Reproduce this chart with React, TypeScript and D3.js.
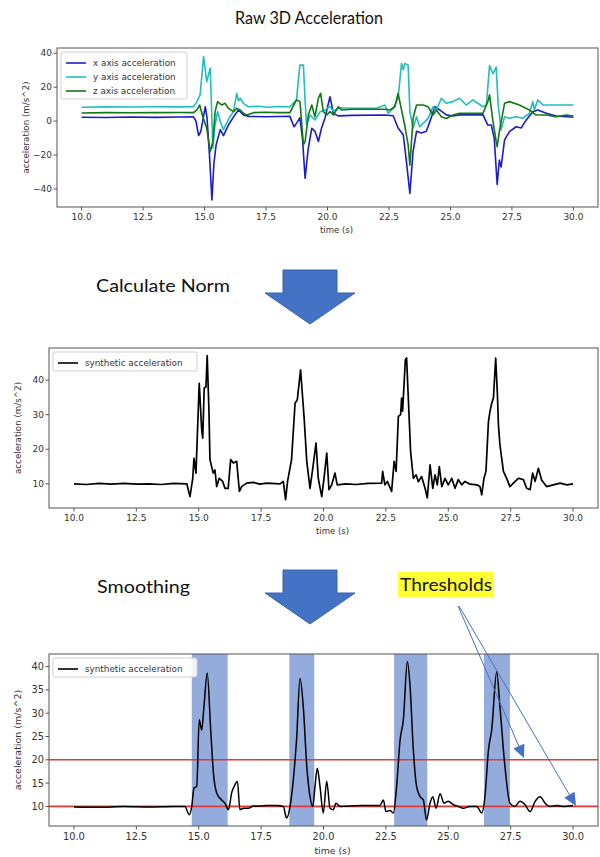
import * as d3 from 'd3';

const xTicks = [10, 12.5, 15, 17.5, 20, 22.5, 25, 27.5, 30];

// raw accelerometer axes, [time, value]
const xAccel = [
  [10, 2.3], [11, 2.1], [12, 2.4], [13, 2.2], [14, 2.4], [14.55, 2.5], [14.65, 0], [14.76, -8.5], [14.85, -6],
  [15.03, 8.5], [15.1, 2], [15.2, -20], [15.3, -46.5], [15.38, -25], [15.47, -14], [15.64, -5], [15.77, -8.5],
  [15.97, -2.3], [16.18, 2.5], [16.38, 6.6], [16.58, 3.6], [16.8, 2.8], [17.5, 2.6], [18.0, 2.7], [18.47, 2.8],
  [18.64, -3.3], [18.75, -1], [18.88, 2], [18.98, -10], [19.09, -33.7], [19.15, -25], [19.22, -16], [19.36, -4.2],
  [19.49, -6], [19.63, -12], [19.76, -4], [19.9, 1.9], [20.1, 14.4], [20.24, 4.5], [20.44, 3.1], [21, 3.4],
  [22.33, 3.6], [22.67, 3.2], [22.87, -4], [23.08, -8], [23.21, -23.9], [23.35, -42.6], [23.48, -17.8],
  [23.62, -6], [23.82, -7], [24.02, -6], [24.23, 2.5], [24.36, 8.5], [24.56, 6.6], [24.83, 3.7], [25.1, 3],
  [25.37, 3.7], [26.32, 3.8], [26.52, -2.3], [26.66, -2.3], [26.78, -10], [26.9, -37.3], [26.99, -23],
  [27.06, -27], [27.2, -11], [27.4, -6.2], [27.67, -3.3], [27.88, -4], [28.08, 0.7], [28.35, 5.6], [28.55, 6.6],
  [28.9, 4.6], [29.3, 3], [30, 2.3],
];
const yAccel = [
  [10, 8.2], [11, 8.4], [12, 8.3], [13, 8.5], [14, 8.4], [14.55, 8.5], [14.69, 11.5], [14.82, 15.5], [14.96, 38],
  [15.09, 23.3], [15.23, 31.2], [15.34, -16], [15.42, -3], [15.53, 5.6], [15.64, -0.3], [15.77, -5], [15.9, -1],
  [16.05, 3], [16.18, 5.6], [16.31, 16.4], [16.38, 12], [16.45, 13.5], [16.58, 10.5], [16.78, 8.5], [17.2, 8.8],
  [17.6, 8.2], [18, 8.6], [18.47, 8.5], [18.74, 12.5], [18.82, 25], [18.88, 33.1], [19.02, 33], [19.09, 11.5],
  [19.15, -2.3], [19.29, 3.6], [19.49, 0.7], [19.7, 5.6], [19.9, 6.6], [20.1, 8.5], [20.24, 6], [20.51, 7.9],
  [21, 7.6], [22, 7.6], [22.33, 9.5], [22.4, 7.5], [22.47, 4.6], [22.67, 7.5], [22.87, 13.5], [23.01, 34],
  [23.08, 30.3], [23.14, 34], [23.28, 33], [23.35, 5.6], [23.48, -4.2], [23.62, 2.6], [23.75, -3.3],
  [23.96, -0.3], [24.09, 1.6], [24.29, 8.5], [24.43, 6.6], [24.63, 13.5], [24.83, 10.5], [25.1, 11.5],
  [25.37, 13.5], [25.64, 9.5], [25.91, 12.5], [26.32, 8.5], [26.46, 9.5], [26.59, 32.7], [26.73, 27.9],
  [26.86, 31.8], [26.94, 10], [27.06, -5.2], [27.2, 2.6], [27.4, 1.7], [27.67, 2.6], [27.94, 1.7], [28.21, 4.6],
  [28.35, 11.5], [28.41, 6.6], [28.55, 12.5], [28.76, 9.5], [29.16, 9.5], [30, 9.5],
];
const zAccel = [
  [10, 4.8], [11, 5], [12, 4.9], [13, 5], [14, 5.1], [14.55, 5], [14.69, 6.6], [14.8, 9.5], [14.93, 2.6],
  [15.09, -4.2], [15.23, -18], [15.34, -12], [15.43, 5.6], [15.53, 11.5], [15.7, 9.5], [15.84, 10.5],
  [15.97, 7.5], [16.18, 5.6], [16.31, 7.5], [16.45, 6.6], [16.58, 4.6], [16.72, 3.6], [16.99, 5], [17.5, 5.2],
  [18, 5], [18.47, 5], [18.74, 12.5], [18.88, 11.5], [19.02, -14], [19.09, -12], [19.22, 3.6], [19.36, 9.5],
  [19.49, 2.6], [19.63, 13.5], [19.72, 16.4], [19.83, 5.6], [19.97, 3.6], [20.1, 5.6], [20.24, 3.6],
  [20.44, 8.5], [20.57, 6.6], [21, 7], [22.33, 7], [22.54, 6.6], [22.74, 8.5], [22.87, 16.4], [23.01, 6.6],
  [23.14, -2.3], [23.28, -14], [23.35, -25.9], [23.48, 1.6], [23.62, 9.5], [23.89, 9.5], [24.09, 8.5],
  [24.29, 3.6], [24.43, 6.6], [24.63, 2.6], [24.83, 1.6], [25.1, 3.6], [25.37, 4.6], [25.77, 4.6], [26.32, 4.6],
  [26.52, 11.5], [26.59, 15.5], [26.73, -0.3], [26.86, -12], [26.9, -15], [27.0, -5.2], [27.2, 10.5],
  [27.4, 11.5], [27.8, 9.5], [28.21, 6.6], [28.48, 3.6], [28.9, 3.6], [29.3, 2.6], [29.7, 3.6], [30, 3],
];

// norm of the three axes
const normAccel = [
  [10, 10], [10.5, 9.8], [11, 10.1], [11.5, 9.9], [12, 10.1], [12.5, 9.9], [13, 10], [13.5, 9.8], [14, 10.1],
  [14.52, 10], [14.65, 6.3], [14.76, 11.6], [14.81, 17.4], [14.89, 13.1], [15.02, 39.1], [15.12, 25.6],
  [15.16, 23.2], [15.22, 37.7], [15.29, 38], [15.34, 47.1], [15.41, 30.9], [15.45, 17], [15.58, 13.1],
  [15.65, 14], [15.72, 9.2], [15.82, 11.6], [15.96, 10.7], [16.05, 8.7], [16.18, 8.7], [16.28, 17], [16.39, 16],
  [16.52, 16.5], [16.63, 7.8], [16.72, 9.2], [16.92, 10.2], [17.19, 10.4], [17.45, 9.9], [17.72, 10.2],
  [18.26, 10], [18.39, 10.7], [18.48, 5.4], [18.56, 10.7], [18.72, 17], [18.86, 33.3], [18.95, 34.3],
  [19.08, 43], [19.22, 29.5], [19.33, 16.5], [19.46, 8.7], [19.57, 14.5], [19.7, 21.8], [19.79, 11.6],
  [19.93, 6.3], [20.02, 11.6], [20.13, 18.9], [20.22, 8.3], [20.33, 9.7], [20.46, 13.1], [20.55, 9.7],
  [20.9, 10], [21.3, 9.8], [21.8, 10.1], [22.33, 10.2], [22.37, 13.6], [22.46, 9.7], [22.56, 10.7], [22.73, 7.8],
  [22.83, 16.5], [22.91, 13.6], [23.0, 29.5], [23.09, 30], [23.13, 34.8], [23.17, 31], [23.28, 45.9],
  [23.33, 46.4], [23.49, 19.4], [23.6, 11.6], [23.71, 12.6], [23.8, 10.6], [23.93, 12.1], [24.07, 8.7],
  [24.16, 5.9], [24.27, 15.5], [24.38, 8.7], [24.47, 12.6], [24.56, 9.7], [24.64, 15], [24.74, 9.2],
  [24.87, 11.6], [25.0, 9.7], [25.14, 11.6], [25.27, 8.7], [25.4, 11.2], [25.54, 9.7], [25.67, 10.7],
  [25.87, 9.9], [26.14, 9.7], [26.27, 9.2], [26.34, 6.8], [26.43, 11.6], [26.51, 13.6], [26.61, 28],
  [26.67, 30.9], [26.74, 33.3], [26.81, 34.8], [26.9, 46.4], [26.97, 35.7], [27.01, 27.1], [27.07, 21.3],
  [27.21, 13.6], [27.34, 11.6], [27.47, 9.2], [27.61, 10.2], [27.81, 11.6], [28.01, 11.2], [28.14, 8.7],
  [28.28, 8.3], [28.38, 13.1], [28.48, 10.7], [28.61, 14.5], [28.74, 11.1], [28.94, 9.2], [29.21, 9.7],
  [29.48, 10.2], [29.75, 9.7], [30, 10],
];

// smoothed norm
const smoothAccel = [
  [10, 9.9], [11, 9.8], [12, 10], [13, 9.9], [14, 10], [14.45, 10], [14.62, 8.2], [14.72, 10], [14.81, 13.9],
  [14.92, 14.3], [15.02, 28.6], [15.12, 26.4], [15.21, 31.4], [15.34, 38.6], [15.48, 26.4], [15.59, 17.1],
  [15.72, 12.9], [15.92, 11.4], [16.05, 10.7], [16.19, 9.3], [16.32, 12.9], [16.45, 14.6], [16.55, 15.4],
  [16.65, 9.3], [16.79, 9.6], [16.99, 9.6], [17.19, 10.1], [17.45, 10.1], [17.72, 10.2], [18.12, 10.2],
  [18.39, 10], [18.52, 7.5], [18.66, 10], [18.79, 15.7], [18.92, 24.3], [19.06, 37.5], [19.19, 31.4],
  [19.33, 18.6], [19.46, 12.1], [19.57, 10], [19.66, 14.3], [19.75, 18.2], [19.86, 14.3], [19.99, 8.6],
  [20.13, 15.4], [20.26, 9.6], [20.39, 9.3], [20.5, 10.7], [20.66, 10], [21.5, 10.2], [22.26, 10.2],
  [22.4, 11.4], [22.5, 8.9], [22.66, 9.1], [22.8, 8.6], [22.93, 14.3], [23.07, 24.3], [23.2, 28.6],
  [23.36, 41.1], [23.47, 35.7], [23.6, 22.1], [23.73, 14.3], [23.87, 12.1], [24.0, 11.4], [24.13, 7.1],
  [24.27, 10.7], [24.38, 12.1], [24.51, 9.6], [24.67, 12.7], [24.83, 10.7], [25.0, 11.1], [25.2, 10.4],
  [25.4, 10], [25.6, 9.6], [25.87, 10], [26.14, 10], [26.34, 8.6], [26.47, 12.1], [26.61, 22.1], [26.74, 26.4],
  [26.94, 38.9], [27.07, 31.4], [27.27, 18.6], [27.47, 10.7], [27.67, 10], [27.87, 11.1], [28.07, 10.4],
  [28.28, 8.9], [28.48, 11.1], [28.68, 12.1], [28.88, 10.7], [29.08, 10], [29.35, 10.2], [29.61, 10],
  [30, 10.2],
];

const thresholds = [20, 10];
const stepWindows = [[14.72, 16.16], [18.63, 19.63], [22.83, 24.16], [26.43, 27.47]];

const FONT = 'DejaVu Sans, sans-serif';
const SLIDE_FONT = 'Lato, sans-serif';
const ARROW_BLUE = '#4472c4';

const Panel = ({ box, yDomain, yTicks, series, fs, legendW, spans = [], hlines = [], smooth = false }) => {
  const { left, right, top, bottom } = box;
  const x = d3.scaleLinear().domain([9, 31]).range([left, right]);
  const y = d3.scaleLinear().domain(yDomain).range([bottom, top]);
  const line = d3
    .line()
    .curve(smooth ? d3.curveMonotoneX : d3.curveLinear)
    .x((d) => x(d[0]))
    .y((d) => y(d[1]));
  const rowH = 14;
  const legH = series.length * rowH + 5;

  return (
    <g fontFamily={FONT} fill="#333">
      {spans.map(([a, b], i) => (
        <rect key={'s' + i} x={x(a)} y={top} width={x(b) - x(a)} height={bottom - top} fill="#94acdc" />
      ))}
      {hlines.map((h, i) => (
        <line key={'h' + i} x1={left} x2={right} y1={y(h)} y2={y(h)} stroke="#e23b36" strokeWidth={1.6} />
      ))}
      {series.map((s) => (
        <path key={s.name} d={line(s.data)} fill="none" stroke={s.color} strokeWidth={s.width} strokeLinejoin="round" />
      ))}
      <rect x={left} y={top} width={right - left} height={bottom - top} fill="none" stroke="#555" strokeWidth={1} />
      {xTicks.map((t) => (
        <g key={'x' + t}>
          <line x1={x(t)} x2={x(t)} y1={bottom} y2={bottom + 3.5} stroke="#555" />
          <text x={x(t)} y={bottom + 4 + fs} textAnchor="middle" fontSize={fs}>
            {d3.format('.1f')(t)}
          </text>
        </g>
      ))}
      {yTicks.map((t) => (
        <g key={'y' + t}>
          <line x1={left - 3.5} x2={left} y1={y(t)} y2={y(t)} stroke="#555" />
          <text x={left - 5} y={y(t)} dy="0.35em" textAnchor="end" fontSize={fs}>
            {d3.format('d')(t).replace('-', '\u2212')}
          </text>
        </g>
      ))}
      <text x={(left + right) / 2 + 9} y={bottom + 6 + fs * 2.2} textAnchor="middle" fontSize={fs * 0.95}>
        time (s)
      </text>
      <text
        transform={`translate(${left - 28},${(top + bottom) / 2}) rotate(-90)`}
        textAnchor="middle"
        fontSize={fs * 0.97}
      >
        acceleration (m/s^2)
      </text>
      <g transform={`translate(${left + 4},${top + 4})`}>
        <rect width={legendW} height={legH} rx={2} fill="white" fillOpacity={0.85} stroke="#d0d0d0" />
        {series.map((s, i) => (
          <g key={'l' + s.name} transform={`translate(0,${4 + rowH * (i + 0.5)})`}>
            <line x1={5} x2={25} stroke={s.color} strokeWidth={1.6} />
            <text x={32} dy="0.35em" fontSize={8.8}>
              {s.label}
            </text>
          </g>
        ))}
      </g>
    </g>
  );
};

const BlockArrow = ({ cx, top }) => {
  const pts = [
    [cx - 27, top],
    [cx + 27, top],
    [cx + 27, top + 23],
    [cx + 45, top + 23],
    [cx, top + 54],
    [cx - 45, top + 23],
    [cx - 27, top + 23],
  ];
  return <polygon points={pts.map((p) => p.join(',')).join(' ')} fill={ARROW_BLUE} stroke="#3a63ad" strokeWidth={1} />;
};

const Pointer = ({ x1, y1, x2, y2 }) => {
  const ang = Math.atan2(y2 - y1, x2 - x1);
  const len = 13;
  const w = 6;
  const bx = x2 - len * Math.cos(ang);
  const by = y2 - len * Math.sin(ang);
  const px = -Math.sin(ang) * w;
  const py = Math.cos(ang) * w;
  return (
    <g>
      <line x1={x1} y1={y1} x2={bx} y2={by} stroke={ARROW_BLUE} strokeWidth={1} />
      <polygon points={`${x2},${y2} ${bx + px},${by + py} ${bx - px},${by - py}`} fill={ARROW_BLUE} />
    </g>
  );
};

const SlideText = ({ x, y, w, anchor = 'start', children }) => (
  <text
    x={x}
    y={y}
    textAnchor={anchor}
    fontFamily={SLIDE_FONT}
    fontSize={18}
    fill="#111"
    textLength={w}
    lengthAdjust="spacingAndGlyphs"
  >
    {children}
  </text>
);

export default function App() {
  return (
    <svg width={600} height={857} style={{ position: 'absolute', left: 0, top: 0, background: 'white' }}>
      <SlideText x={309} y={24} w={148} anchor="middle">
        Raw 3D Acceleration
      </SlideText>
      <Panel
        box={{ left: 57, right: 598, top: 48, bottom: 207 }}
        yDomain={[-50.6, 43.1]}
        yTicks={[-40, -20, 0, 20, 40]}
        fs={9}
        legendW={126}
        series={[
          { name: 'x', label: 'x axis acceleration', data: xAccel, color: '#1c1cc8', width: 1.6 },
          { name: 'y', label: 'y axis acceleration', data: yAccel, color: '#22bdbd', width: 1.6 },
          { name: 'z', label: 'z axis acceleration', data: zAccel, color: '#127812', width: 1.6 },
        ]}
      />

      <SlideText x={96} y={292} w={134}>
        Calculate Norm
      </SlideText>
      <BlockArrow cx={310} top={270} />

      <Panel
        box={{ left: 49, right: 598, top: 348, bottom: 508 }}
        yDomain={[3.0, 49.3]}
        yTicks={[10, 20, 30, 40]}
        fs={9}
        legendW={144}
        series={[{ name: 'n', label: 'synthetic acceleration', data: normAccel, color: '#000', width: 1.7 }]}
      />

      <SlideText x={97} y={593} w={93}>
        Smoothing
      </SlideText>
      <BlockArrow cx={310} top={570} />
      <rect x={398} y={572} width={96} height={25} fill="#ffff33" />
      <SlideText x={446} y={591} w={92} anchor="middle">
        Thresholds
      </SlideText>

      <Panel
        box={{ left: 49, right: 598, top: 654, bottom: 826 }}
        yDomain={[5.8, 42.7]}
        yTicks={[10, 15, 20, 25, 30, 35, 40]}
        fs={9.8}
        legendW={144}
        spans={stepWindows}
        hlines={thresholds}
        smooth
        series={[{ name: 's', label: 'synthetic acceleration', data: smoothAccel, color: '#000', width: 1.5 }]}
      />
      <Pointer x1={458} y1={606} x2={524} y2={758} />
      <Pointer x1={459} y1={606} x2={576} y2={806} />
    </svg>
  );
}
